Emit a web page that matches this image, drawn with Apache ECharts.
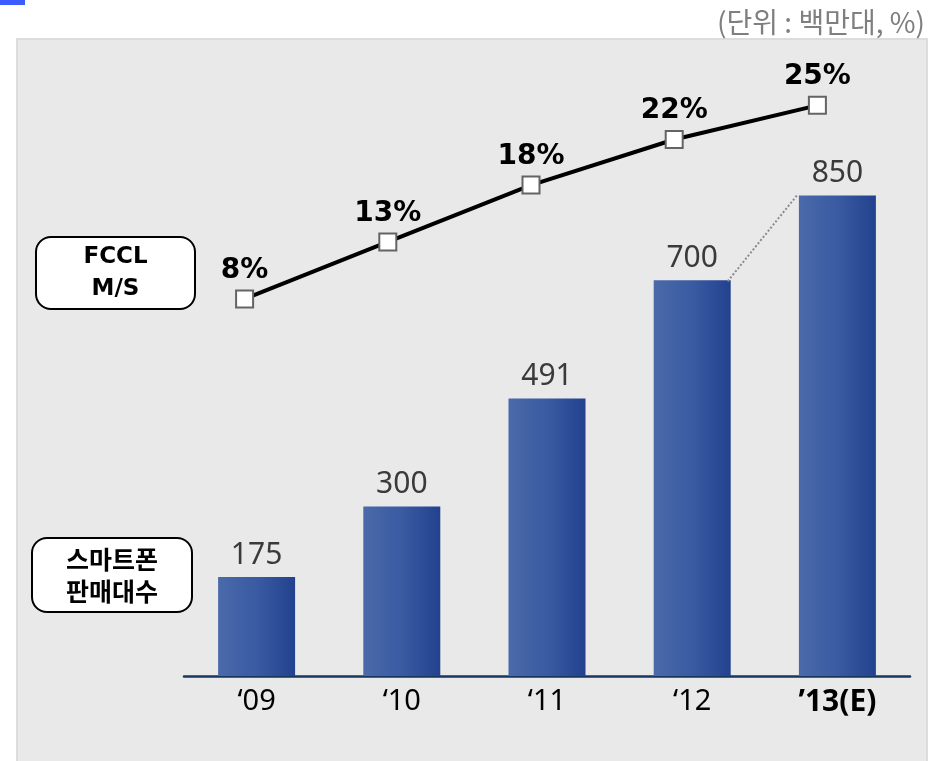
<!DOCTYPE html>
<html>
<head>
<meta charset="utf-8">
<script src="https://cdn.jsdelivr.net/npm/echarts@6/dist/echarts.min.js"></script>
<style>
  html, body { margin: 0; padding: 0; background: #ffffff; }
  #chart { width: 936px; height: 761px; }
</style>
</head>
<body>
<div id="chart"></div>
<script>
// Years on the category axis
const years = ['‘09', '‘10', '‘11', '‘12', '’13(E)'];
// Smartphone units sold (millions)
const smartphoneSales = [175, 300, 491, 700, 850];
// FCCL market share (%)
const fcclShare = [8, 13, 18, 22, 25];
// Annotation texts
const unitText = '(단위 : 백만대, %)';
const shareTag = 'FCCL\nM/S';
const salesTag = '스마트폰\n판매대수';

const BAR_WIDTH = 77;
const chart = echarts.init(document.getElementById('chart'), null, { renderer: 'canvas' });

// left-to-right shading of the bars
const barGradient = new echarts.graphic.LinearGradient(0, 0, 1, 0, [
  { offset: 0, color: '#4a6aaa' },
  { offset: 0.5, color: '#3a5aa2' },
  { offset: 1, color: '#22428f' }
]);

// Rounded tag box with centred bold text
function tagBox(x, y, w, h, text, font, lineHeight) {
  return {
    type: 'group', x: x, y: y, z: 20,
    children: [
      { type: 'rect', shape: { x: 0, y: 0, width: w, height: h, r: 15 },
        style: { fill: '#ffffff', stroke: '#000000', lineWidth: 2 } },
      { type: 'text', x: w / 2, y: h / 2,
        style: { text: text, fill: '#000000', font: font, align: 'center',
                 verticalAlign: 'middle', lineHeight: lineHeight } }
    ]
  };
}

const option = {
  animation: false,
  backgroundColor: '#ffffff',
  graphic: [
    // grey panel behind the plot
    { type: 'rect', z: -10, shape: { x: 17, y: 39, width: 910, height: 730 },
      style: { fill: '#e9e9e9', stroke: '#dcdcdc', lineWidth: 2 } },
    // small accent mark
    { type: 'rect', z: -10, shape: { x: 0, y: 0, width: 25, height: 5 },
      style: { fill: '#3b5cff' } },
    // unit note
    { type: 'text', x: 925, y: 22, z: 20,
      style: { text: unitText, fill: '#7f7f7f', align: 'right', verticalAlign: 'middle',
               font: '28px "Noto Sans CJK KR", "Noto Sans", sans-serif' } },
    tagBox(36, 237, 159, 72, shareTag, 'bold 23px "DejaVu Sans", sans-serif', 32),
    tagBox(32, 538, 160, 74, salesTag, 'bold 25px "Noto Sans CJK KR", sans-serif', 32)
  ],
  grid: [
    { left: 184, right: 26, top: 40, bottom: 85 },
    { left: 173, right: 47, top: 37, bottom: 371 }
  ],
  xAxis: [
    {
      type: 'category', gridIndex: 0, data: years,
      axisLine: { show: true, lineStyle: { color: '#17375e', width: 2.5 } },
      axisTick: { show: false },
      axisLabel: {
        interval: 0,
        margin: 11,
        color: '#000000',
        fontFamily: '"Noto Sans", sans-serif',
        fontSize: 29,
        formatter: function (v, i) {
          return i === years.length - 1 ? '{b|' + v + '}' : v;
        },
        rich: {
          b: { fontWeight: 'bold', fontSize: 30, color: '#000000',
               fontFamily: '"Noto Sans", sans-serif' }
        }
      }
    },
    {
      type: 'category', gridIndex: 1, data: years, show: false
    }
  ],
  yAxis: [
    { type: 'value', gridIndex: 0, min: 0, max: 1125, show: false, splitLine: { show: false } },
    { type: 'value', gridIndex: 1, min: 0, max: 31, show: false, splitLine: { show: false } }
  ],
  series: [
    {
      name: '스마트폰 판매대수',
      type: 'bar',
      xAxisIndex: 0, yAxisIndex: 0,
      data: smartphoneSales,
      barWidth: BAR_WIDTH,
      itemStyle: { color: barGradient },
      label: {
        show: true, position: 'top', distance: 7,
        color: '#3a3a3a', fontSize: 30,
        fontFamily: '"Noto Sans", sans-serif'
      },
      emphasis: { disabled: true },
      silent: true
    },
    {
      // dotted connector between the last two bar tops
      name: 'connector',
      type: 'custom',
      xAxisIndex: 0, yAxisIndex: 0,
      data: [[3, smartphoneSales[3], 4, smartphoneSales[4]]],
      encode: { x: [0, 2], y: [1, 3] },
      renderItem: function (params, api) {
        const a = api.coord([api.value(0), api.value(1)]);
        const b = api.coord([api.value(2), api.value(3)]);
        const half = BAR_WIDTH / 2;
        return {
          type: 'line',
          shape: { x1: a[0] + half - 3, y1: a[1] + 1, x2: b[0] - half - 2, y2: b[1] },
          style: { stroke: '#8a8a8a', lineWidth: 2, lineDash: [2, 2] }
        };
      },
      silent: true,
      z: 3
    },
    {
      name: 'FCCL M/S',
      type: 'line',
      xAxisIndex: 1, yAxisIndex: 1,
      data: fcclShare,
      symbol: 'rect',
      symbolSize: 17,
      lineStyle: { color: '#000000', width: 4 },
      itemStyle: { color: '#ffffff', borderColor: '#646464', borderWidth: 2 },
      label: {
        show: true, position: 'top', distance: 5,
        formatter: '{c}%',
        color: '#000000', fontWeight: 'bold', fontSize: 28,
        fontFamily: '"DejaVu Sans", sans-serif'
      },
      emphasis: { disabled: true },
      silent: true,
      z: 5
    }
  ]
};

chart.setOption(option);
</script>
</body>
</html>
